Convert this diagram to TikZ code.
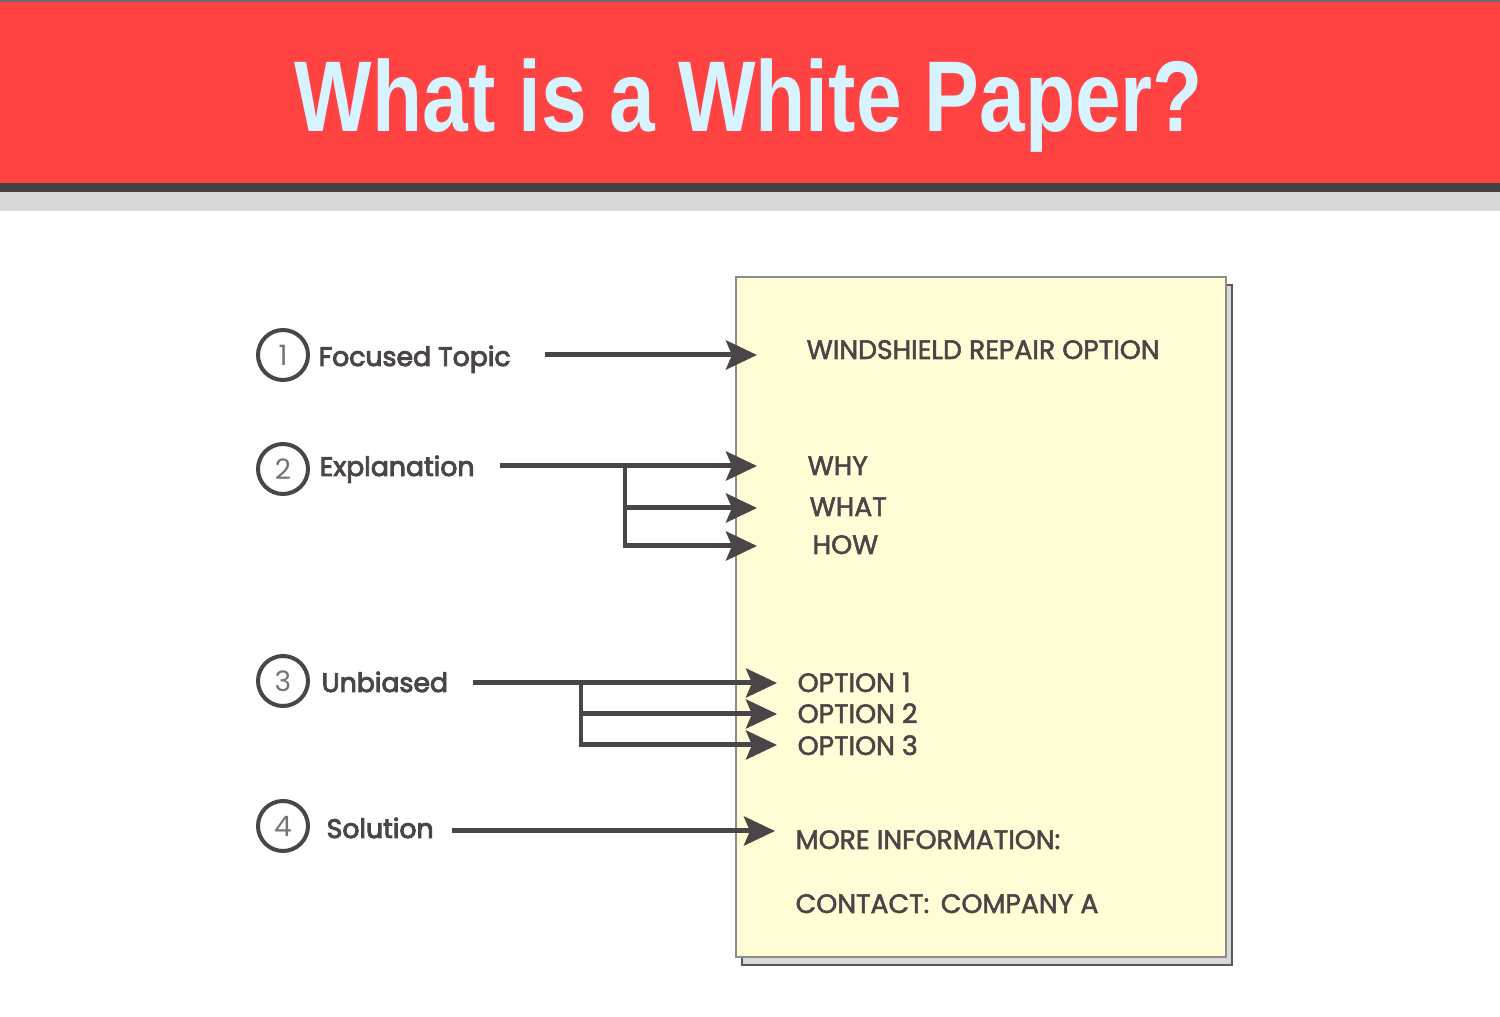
\documentclass[tikz,border=0pt]{standalone}
\usepackage{fontspec}
\setmainfont{Poppins}
\newfontfamily\titlefont{Liberation Sans}
\newfontfamily\topicfont{Poppins}[FakeBold=3.5]
\newfontfamily\itemfont{Poppins}[FakeBold=2]
\usetikzlibrary{arrows.meta}
\usetikzlibrary{calc}
\definecolor{headRed}{HTML}{FF4343}
\definecolor{headText}{HTML}{D6F3FF}
\definecolor{ink}{HTML}{4A4547}
\definecolor{paperFill}{HTML}{FFFDD6}
\definecolor{paperEdge}{HTML}{8C8C8C}
\tikzset{topicnum/.style={draw=ink, line width=1.14pt, circle, minimum size=0.5cm, inner sep=0pt, font=\fontsize{8}{8}\selectfont, text=ink!75}}
\tikzset{topic/.style={anchor=base west, inner sep=0pt, font=\topicfont\fontsize{7.6}{9}\selectfont, text=ink}}
\tikzset{item/.style={anchor=base west, inner sep=0pt, font=\itemfont\fontsize{7.6}{9}\selectfont, text=ink}}
\tikzset{link/.style={draw=ink, line width=1.42pt}}
\tikzset{arr/.style={link, -{Stealth[length=3.1mm, width=2.9mm, inset=0.6mm]}}}
\tikzset{paper/.style={draw=paperEdge, line width=0.6pt, fill=paperFill, minimum width=4.9cm, minimum height=6.8cm, inner sep=0pt}}

\begin{document}
\begin{tikzpicture}

\useasboundingbox (0,0) rectangle (15,-10.17);

\fill[white] (0,0) rectangle (15,-10.17);
\fill[headRed] (0,0) rectangle (15,-1.83);
\draw[ink!80, line width=0.6pt] (0,-0.01) -- (15,-0.01);
\fill[ink!95!black] (0,-1.83) rectangle (15,-1.92);
\fill[gray!30] (0,-1.92) rectangle (15,-2.11);

\node[anchor=base, inner sep=0pt, text=headText, xscale=0.817, font=\titlefont\bfseries\fontsize{28.6}{30}\selectfont] (title) at (7.49,-1.32) {What is a White Paper?};

\draw[draw=ink!90, fill=gray!30, line width=0.6pt] (7.42,-2.85) rectangle (12.32,-9.65);
\node[paper] (paper) at (9.81,-6.17) {};

\node[topicnum] (n1) at (2.83,-3.55) {1};
\node[topicnum] (n2) at (2.83,-4.69) {2};
\node[topicnum] (n3) at (2.83,-6.81) {3};
\node[topicnum] (n4) at (2.83,-8.26) {4};

\node[topic] (focus) at (3.18,-3.66) {Focused Topic};
\node[topic] (expl) at (3.19,-4.76) {Explanation};
\node[topic] (unbias) at (3.21,-6.92) {Unbiased};
\node[topic] (solut) at (3.26,-8.38) {Solution};

\node[item] (wind) at (8.06,-3.59) {WINDSHIELD REPAIR OPTION};
\node[item] (why) at (8.07,-4.75) {WHY};
\node[item] (what) at (8.09,-5.16) {WHAT};
\node[item] (how) at (8.12,-5.54) {HOW};
\node[item] (opt1) at (7.97,-6.92) {OPTION 1};
\node[item] (opt2) at (7.97,-7.23) {OPTION 2};
\node[item] (opt3) at (7.97,-7.55) {OPTION 3};
\node[item] (more) at (7.95,-8.49) {MORE INFORMATION:};
\node[item] (contact) at (7.95,-9.13) {CONTACT:\, COMPANY A};

\coordinate (focusTail) at (5.45,-3.55);
\coordinate (windTip) at (7.57,-3.55);
\coordinate (explTail) at (5.00,-4.66);
\coordinate (explFork) at (6.25,-4.66);
\coordinate (whyTip) at (7.57,-4.66);
\coordinate (whatTip) at (7.57,-5.08);
\coordinate (howTip) at (7.57,-5.46);
\coordinate (unbiasTail) at (4.73,-6.83);
\coordinate (unbiasFork) at (5.81,-6.83);
\coordinate (opt1Tip) at (7.77,-6.83);
\coordinate (opt2Tip) at (7.77,-7.14);
\coordinate (opt3Tip) at (7.77,-7.45);
\coordinate (solutTail) at (4.52,-8.31);
\coordinate (moreTip) at (7.75,-8.31);

\draw[arr] (focusTail) -- (windTip);
\draw[arr] (explTail) -- (whyTip);
\draw[arr] (explFork) |- (whatTip);
\draw[arr] (explFork) |- (howTip);
\draw[arr] (unbiasTail) -- (opt1Tip);
\draw[arr] (unbiasFork) |- (opt2Tip);
\draw[arr] (unbiasFork) |- (opt3Tip);
\draw[arr] (solutTail) -- (moreTip);

\end{tikzpicture}
\end{document}
